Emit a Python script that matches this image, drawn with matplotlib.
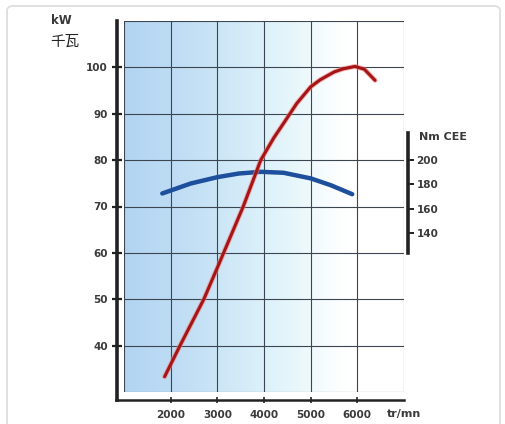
import matplotlib
matplotlib.use('Agg')
import matplotlib.pyplot as plt
import numpy as np
from matplotlib.colors import LinearSegmentedColormap
from matplotlib.patches import FancyBboxPatch

# power curve (kW)
rpm_power = [1870, 2200, 2710, 3000, 3555, 3930, 4210, 4450, 4700, 5000, 5200, 5500, 5700, 5950, 6150, 6380]
power_kw = [33.3, 40, 50, 56.8, 70, 80, 84.8, 88.4, 92.2, 95.8, 97.3, 99, 99.7, 100.2, 99.6, 97.2]

# torque curve (Nm CEE)
rpm_torque = [1820, 2430, 3000, 3460, 3930, 4420, 5000, 5430, 5890]
torque_nm = [172.6, 180.8, 186, 189, 190.4, 189.6, 185, 179.4, 172]

rpm_ticks = [2000, 3000, 4000, 5000, 6000]
kw_ticks = [40, 50, 60, 70, 80, 90, 100]
nm_ticks = [140, 160, 180, 200]

txt = '#3a3a3a'
plt.rcParams['font.family'] = ['DejaVu Sans', 'Noto Sans CJK SC']

fig = plt.figure(figsize=(5.06, 4.24), dpi=100)
fig.patch.set_facecolor('white')
frame = FancyBboxPatch((7 / 506, -0.05), 493 / 506, 1 - 6 / 424 + 0.05,
                       boxstyle='round,pad=0,rounding_size=0.012',
                       transform=fig.transFigure, fc='white', ec='#dcdcdc', lw=1.2,
                       zorder=-5)
fig.patches.append(frame)

rect = [124 / 506, 1 - 392 / 424, 280 / 506, 371 / 424]

# background: gradient and grid
bg = fig.add_axes(rect, zorder=0)
bg.set_xlim(1000, 7000)
bg.set_ylim(30, 110)
cmap = LinearSegmentedColormap.from_list('bg', [
    (0.0, '#b2d4f2'), (0.25, '#c3e0f5'), (0.5, '#dcf1fa'),
    (0.62, '#e9f7fb'), (0.72, '#f7fcfe'), (0.8, '#ffffff'), (1.0, '#ffffff')])
grad = np.linspace(0, 1, 256).reshape(1, -1)
bg.imshow(grad, extent=[1000, 7000, 30, 110], aspect='auto', cmap=cmap, zorder=0)
for x in range(1000, 7001, 1000):
    bg.axvline(x, color='#3c4650', lw=0.8, zorder=1)
for y in range(30, 111, 10):
    bg.axhline(y, color='#3c4650', lw=0.8, zorder=1)
bg.set_axis_off()

# torque axis on the right
scale = 0.2624  # kW per Nm on the drawing
ax2 = fig.add_axes(rect, zorder=1)
ax2.patch.set_visible(False)
ax2.set_xlim(1000, 7000)
ax2.set_ylim(200 + (30 - 80) / scale, 200 + (110 - 80) / scale)
ax2.plot(rpm_torque, torque_nm, color='#1d4f9c', lw=3.2, solid_capstyle='round')
for s in ['top', 'left', 'bottom']:
    ax2.spines[s].set_visible(False)
ax2.xaxis.set_visible(False)
ax2.yaxis.tick_right()
ax2.spines['right'].set_position(('outward', 3))
ax2.spines['right'].set_bounds(124, 222)
ax2.spines['right'].set_linewidth(2.6)
ax2.spines['right'].set_color('#222222')
ax2.set_yticks(nm_ticks)
ax2.set_yticklabels([str(v) for v in nm_ticks])
ax2.tick_params(axis='y', direction='out', length=4.5, width=1.4, color='#222222',
                labelsize=7.5, labelcolor=txt, pad=1.5)
for lab in ax2.get_yticklabels():
    lab.set_fontweight('bold')

# power axis
ax = fig.add_axes(rect, zorder=2)
ax.patch.set_visible(False)
ax.set_xlim(1000, 7000)
ax.set_ylim(30, 110)
ax.plot(rpm_power, power_kw, color='#f08080', lw=3.6, alpha=0.6, solid_capstyle='round',
        solid_joinstyle='round')
ax.plot(rpm_power, power_kw, color='#a51515', lw=2.2, solid_capstyle='round',
        solid_joinstyle='round')

for s in ['top', 'right']:
    ax.spines[s].set_visible(False)
ax.spines['left'].set_position(('outward', 5.2))
ax.spines['bottom'].set_position(('outward', 5.8))
ax.spines['left'].set_bounds(28.3, 110)
ax.spines['bottom'].set_bounds(830, 7000)
ax.spines['left'].set_linewidth(2.6)
ax.spines['bottom'].set_linewidth(1.8)
ax.spines['left'].set_color('#222222')
ax.spines['bottom'].set_color('#222222')

ax.set_xticks(rpm_ticks)
ax.set_yticks(kw_ticks)
ax.set_xticklabels([str(v) for v in rpm_ticks])
ax.set_yticklabels([str(v) for v in kw_ticks])
ax.tick_params(axis='y', direction='inout', length=7, width=1.6, color='#222222',
               labelsize=7.5, labelcolor=txt, pad=3)
ax.tick_params(axis='x', direction='inout', length=5, width=1.2, color='#222222',
               labelsize=7.5, labelcolor=txt, pad=5)
for lab in ax.get_xticklabels() + ax.get_yticklabels():
    lab.set_fontweight('bold')

fig.text(51 / 506, 1 - 20 / 424, 'kW', fontsize=8.5, fontweight='bold', color=txt,
         ha='left', va='center')
fig.text(50 / 506, 1 - 42 / 424, '千瓦', fontsize=10.5, color='#222222', ha='left', va='center',
         family=['Noto Sans CJK SC', 'DejaVu Sans'])
fig.text(419 / 506, 1 - 137 / 424, 'Nm CEE', fontsize=8, fontweight='bold', color=txt,
         ha='left', va='center')
fig.text(387 / 506, 1 - 414 / 424, 'tr/mn', fontsize=8, fontweight='bold', color=txt,
         ha='left', va='center')

fig.savefig('out.png', dpi=100)
